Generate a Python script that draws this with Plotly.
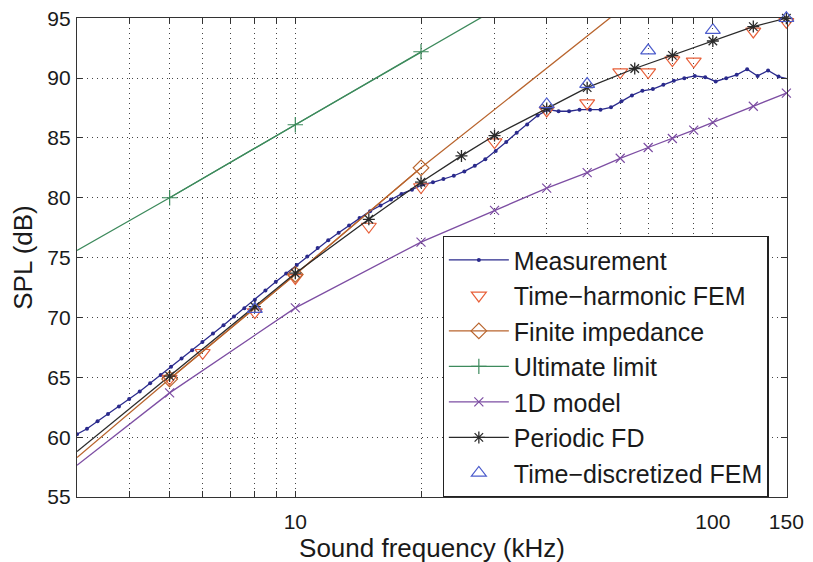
import plotly.graph_objects as go

# ---------------- data ----------------
meas_f = [3.00, 3.17, 3.36, 3.56, 3.78, 4.00, 4.24, 4.49, 4.76, 5.04, 5.34, 5.66, 5.99,
          6.35, 6.73, 7.13, 7.55, 8.00, 8.48, 8.98, 9.51, 10.08, 10.68, 11.31, 11.99,
          12.70, 13.45, 14.25, 15.10, 16.00, 16.95, 17.96, 19.03, 20.16, 21.36, 22.63,
          23.97, 25.40, 26.91, 28.51, 30.20, 32.00, 33.90, 35.92, 38.05, 40.32, 42.71,
          45.25, 47.94, 50.80, 53.82, 57.02, 60.41, 64.00, 67.80, 71.84, 76.11, 80.63,
          85.43, 90.51, 95.89, 101.59, 107.63, 114.04, 120.82, 128.00, 135.61, 143.68, 152.22]
meas_spl = [60.25, 60.70, 61.33, 61.94, 62.57, 63.18, 63.81, 64.51, 65.20, 65.89, 66.58,
            67.27, 67.96, 68.66, 69.34, 70.09, 70.78, 71.47, 72.25, 72.99, 73.68, 74.38,
            75.10, 75.81, 76.45, 77.08, 77.69, 78.30, 78.88, 79.35, 79.85, 80.32, 80.68,
            81.10, 81.29, 81.56, 81.84, 82.20, 82.67, 83.22, 83.91, 84.66, 85.43, 86.12,
            86.87, 87.36, 87.23, 87.23, 87.36, 87.36, 87.36, 87.56, 88.06, 88.55, 88.94,
            89.08, 89.44, 89.77, 89.99, 90.18, 90.07, 89.72, 89.99, 90.27, 90.74, 90.18,
            90.63, 90.13, 89.91]

thfem_f = [5, 6, 8, 10, 15, 20, 30, 40, 50, 60, 70, 80, 90, 125, 150]
thfem_spl = [64.9, 67.05, 70.45, 73.3, 77.6, 80.9, 84.65, 87.3, 87.9, 90.5, 90.5, 91.5,
             91.4, 93.9, 94.7]

finimp_line_f = [3, 5, 10, 20, 60]
finimp_line_spl = [58.3, 64.85, 73.6, 82.5, 95.7]
finimp_f = [5, 10, 20]
finimp_spl = [64.85, 73.6, 82.5]

ult_line_f = [3, 5, 10, 20, 30]
ult_line_spl = [75.6, 80.0, 86.1, 92.2, 95.7]
ult_f = [5, 10, 20]
ult_spl = [80.0, 86.1, 92.2]

oned_line_f = [3, 5, 10, 20, 30, 40, 50, 60, 70, 80, 90, 100, 125, 150]
oned_line_spl = [57.65, 63.7, 70.8, 76.3, 78.95, 80.8, 82.1, 83.3, 84.2, 84.95, 85.65,
                 86.3, 87.65, 88.75]

pfd_line_f = [3, 5, 8, 10, 15, 20, 25, 30, 40, 50, 65, 80, 100, 125, 150]
pfd_line_spl = [58.8, 65.1, 70.9, 73.7, 78.2, 81.3, 83.5, 85.2, 87.45, 89.2, 90.8, 91.9,
                93.1, 94.3, 95.0]

tdfem_f = [8, 40, 50, 70, 100, 150]
tdfem_spl = [70.7, 87.8, 89.5, 92.3, 94.0, 95.0]

x_grid = [4, 5, 6, 7, 8, 9, 10, 20, 30, 40, 50, 60, 70, 80, 90, 100, 150]
x_labels = {10: "10", 100: "100", 150: "150"}
y_ticks = [55, 60, 65, 70, 75, 80, 85, 90, 95]

# ---------------- colours ----------------
C_MEAS = "#2a2a8c"
C_TH = "#e8603a"
C_FI = "#b9652e"
C_UL = "#3d8a5c"
C_1D = "#7d4ea3"
C_PFD = "#2a2a2a"
C_TD = "#4c5ccc"

fig = go.Figure()

# background lines (no legend)
fig.add_trace(go.Scatter(x=finimp_line_f, y=finimp_line_spl, mode="lines",
                         line=dict(color=C_FI, width=1.3), showlegend=False, hoverinfo="skip"))
fig.add_trace(go.Scatter(x=ult_line_f, y=ult_line_spl, mode="lines",
                         line=dict(color=C_UL, width=1.3), showlegend=False, hoverinfo="skip"))
fig.add_trace(go.Scatter(x=oned_line_f[:2], y=oned_line_spl[:2], mode="lines",
                         line=dict(color=C_1D, width=1.3), showlegend=False, hoverinfo="skip"))
fig.add_trace(go.Scatter(x=pfd_line_f[:2], y=pfd_line_spl[:2], mode="lines",
                         line=dict(color=C_PFD, width=1.3), showlegend=False, hoverinfo="skip"))

# legend traces
fig.add_trace(go.Scatter(name="Measurement", x=meas_f, y=meas_spl, mode="lines+markers",
                         line=dict(color=C_MEAS, width=1.3),
                         marker=dict(color=C_MEAS, size=4, symbol="circle")))
fig.add_trace(go.Scatter(name="Time\u2212harmonic FEM", x=thfem_f, y=thfem_spl, mode="markers",
                         marker=dict(symbol="triangle-down-open", size=13, color=C_TH,
                                     line=dict(width=1.2, color=C_TH)),
                         cliponaxis=False))
fig.add_trace(go.Scatter(name="Finite impedance", x=finimp_f, y=finimp_spl, mode="lines+markers",
                         line=dict(color=C_FI, width=1.3),
                         marker=dict(symbol="diamond-open", size=12, color=C_FI,
                                     line=dict(width=1.2, color=C_FI))))
fig.add_trace(go.Scatter(name="Ultimate limit", x=ult_f, y=ult_spl, mode="lines+markers",
                         line=dict(color=C_UL, width=1.3),
                         marker=dict(symbol="cross-thin", size=11, color=C_UL,
                                     line=dict(width=1.2, color=C_UL))))
fig.add_trace(go.Scatter(name="1D model", x=oned_line_f[1:], y=oned_line_spl[1:], mode="lines+markers",
                         line=dict(color=C_1D, width=1.3),
                         marker=dict(symbol="x-thin", size=9, color=C_1D,
                                     line=dict(width=1.2, color=C_1D)),
                         cliponaxis=False))
fig.add_trace(go.Scatter(name="Periodic FD", x=pfd_line_f[1:], y=pfd_line_spl[1:], mode="lines+markers",
                         line=dict(color=C_PFD, width=1.3),
                         marker=dict(symbol="asterisk", size=10, color=C_PFD,
                                     line=dict(width=1.3, color=C_PFD)),
                         cliponaxis=False))
fig.add_trace(go.Scatter(name="Time\u2212discretized FEM", x=tdfem_f, y=tdfem_spl, mode="markers",
                         marker=dict(symbol="triangle-up-open", size=13, color=C_TD,
                                     line=dict(width=1.2, color=C_TD)),
                         cliponaxis=False))

FONT = "Liberation Sans, Arial, sans-serif"
GRID_DASH = "1px,4px"

fig.update_layout(
    width=813, height=562,
    margin=dict(l=69, r=34, t=10, b=73, autoexpand=False),
    paper_bgcolor="white", plot_bgcolor="white",
    font=dict(family=FONT, size=21, color="#1a1a1a"),
    xaxis=dict(type="log", range=[0.47712, 2.1776],
               tickmode="array", tickvals=x_grid,
               ticktext=[x_labels.get(v, "") for v in x_grid],
               ticks="inside", ticklen=6, tickcolor="#333", ticklabelstandoff=6,
               ticklabeloverflow="allow",
               showgrid=True, gridcolor="#444", griddash=GRID_DASH, gridwidth=1,
               showline=True, linecolor="#333", linewidth=1.2, mirror="ticks",
               zeroline=False, automargin=False,
               title=dict(text="Sound frequency (kHz)", standoff=0, font=dict(size=26)),
               tickfont=dict(size=21)),
    yaxis=dict(range=[55, 95.02], tickmode="array", tickvals=y_ticks,
               ticks="inside", ticklen=6, tickcolor="#333", ticklabelstandoff=1,
               ticklabeloverflow="allow",
               showgrid=True, gridcolor="#444", griddash=GRID_DASH, gridwidth=1,
               showline=True, linecolor="#333", linewidth=1.2, mirror="ticks",
               zeroline=False, automargin=False,
               title=dict(text="SPL (dB)", standoff=14, font=dict(size=26)),
               tickfont=dict(size=21)),
    legend=dict(x=0.515, y=0.545, xanchor="left", yanchor="top",
                bgcolor="white", bordercolor="#222", borderwidth=1.2,
                font=dict(size=25, family=FONT), itemwidth=60,
                tracegroupgap=0),
)

fig.write_html("out.html")
